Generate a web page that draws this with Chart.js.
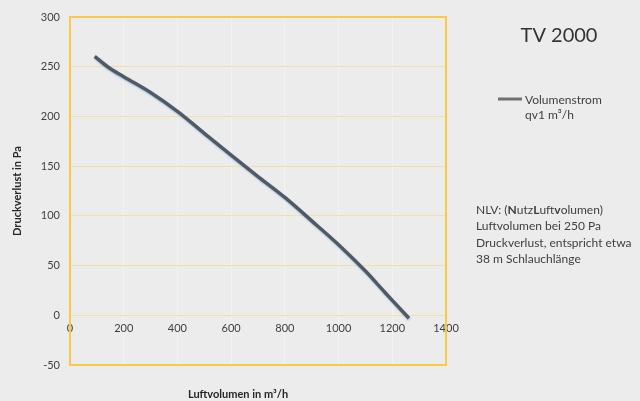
<!DOCTYPE html>
<html lang="de">
  <head>
    <meta charset="UTF-8">
    <title>TV 2000</title>
    <script src="https://cdn.jsdelivr.net/npm/chart.js@4"></script>
    <style>
      html, body { margin: 0; padding: 0; background: #ececec; }
    </style>
  </head>
  <body>
    <canvas id="chart" width="640" height="401"></canvas>
    <script type="text/javascript">
      // Luftvolumen (m³/h) und Druckverlust (Pa)
      const airflow = [92, 140, 200, 300, 400, 500, 600, 700, 800, 900, 1000, 1100, 1166, 1200, 1262]
      const pressure = [260.5, 250, 240, 224, 205, 183, 161, 139.5, 118.5, 95, 71, 44.5, 25, 15, -3]
      const xTicks = [0, 200, 400, 600, 800, 1000, 1200, 1400]
      const yTicks = [-50, 0, 50, 100, 150, 200, 250, 300]

      const FONT = 'Lato, "Liberation Sans", sans-serif'

      // light blue glow under the line, as in the original
      const glow = {
        id: 'glow',
        beforeDatasetsDraw(chart) {
          const ctx = chart.ctx
          ctx.save()
          ctx.shadowColor = 'rgba(110,165,220,0.55)'
          ctx.shadowOffsetX = 0.5
          ctx.shadowOffsetY = 1.5
          ctx.shadowBlur = 1.5
        },
        afterDatasetsDraw(chart) {
          chart.ctx.restore()
        }
      }

      const decor = {
        id: 'decor',
        afterDraw(chart) {
          const ctx = chart.ctx
          const a = chart.chartArea
          ctx.save()
          // gold frame round the plot
          ctx.strokeStyle = '#f8ca45'
          ctx.lineWidth = 2
          ctx.strokeRect(a.left, a.top, a.right - a.left, a.bottom - a.top)

          // x axis title
          ctx.fillStyle = '#262626'
          ctx.font = 'bold 11px ' + FONT
          ctx.textAlign = 'center'
          ctx.textBaseline = 'middle'
          ctx.fillText('Luftvolumen in m³/h', 238, 394)

          // heading
          ctx.fillStyle = '#333333'
          ctx.font = '20px ' + FONT
          ctx.fillText('TV 2000', 559, 36)

          // legend
          ctx.strokeStyle = '#707070'
          ctx.lineWidth = 3
          ctx.beginPath()
          ctx.moveTo(498, 99)
          ctx.lineTo(522, 99)
          ctx.stroke()
          ctx.fillStyle = '#404040'
          ctx.font = '12px ' + FONT
          ctx.textAlign = 'left'
          ctx.fillText('Volumenstrom', 525, 100)
          ctx.fillText('qv1 m³/h', 525, 115)

          // note
          const parts = [['NLV: (', false], ['N', true], ['utz', false], ['L', true],
                         ['uft', false], ['v', true], ['olumen)', false]]
          let x = 476
          parts.forEach(p => {
            ctx.font = (p[1] ? 'bold ' : '') + '12px ' + FONT
            ctx.fillText(p[0], x, 210)
            x += ctx.measureText(p[0]).width
          })
          ctx.font = '12px ' + FONT
          ctx.fillText('Luftvolumen bei 250 Pa', 476, 226.5)
          ctx.fillText('Druckverlust, entspricht etwa', 476, 243)
          ctx.fillText('38 m Schlauchlänge', 476, 259.5)
          ctx.restore()
        }
      }

      const ctx = document.getElementById('chart').getContext('2d')
      const chart = new Chart(ctx, {
        type: 'line',
        data: {
          datasets: [
            {
              label: 'Volumenstrom qv1 m³/h',
              data: airflow.map((v, i) => ({ x: v, y: pressure[i] })),
              borderColor: '#4f5a66',
              backgroundColor: '#4f5a66',
              borderWidth: 3.5,
              pointRadius: 0,
              cubicInterpolationMode: 'monotone',
              fill: false
            }
          ]
        },
        options: {
          responsive: false,
          animation: false,
          layout: { padding: { top: 17, right: 194, bottom: 36, left: 0 } },
          plugins: {
            legend: { display: false },
            tooltip: { enabled: false }
          },
          scales: {
            x: {
              type: 'linear',
              position: { y: 0 },
              min: 0,
              max: 1400,
              afterBuildTicks: s => { s.ticks = xTicks.map(v => ({ value: v })) },
              grid: { color: 'rgba(255,255,255,0.35)', drawTicks: false },
              border: { display: false },
              ticks: {
                color: '#404040', padding: 7, maxRotation: 0,
                font: { family: FONT, size: 11 },
                callback: v => String(v)
              }
            },
            y: {
              type: 'linear',
              min: -50,
              max: 300,
              afterBuildTicks: s => { s.ticks = yTicks.map(v => ({ value: v })) },
              afterFit: s => { s.width = 70 },
              grid: { color: '#f5dfa8', drawTicks: false },
              border: { display: false },
              ticks: { color: '#404040', padding: 10, font: { family: FONT, size: 11 } },
              title: {
                display: true,
                text: 'Druckverlust in Pa',
                color: '#262626',
                padding: { top: 11, bottom: 4 },
                font: { family: FONT, size: 11, weight: 'bold' }
              }
            }
          }
        },
        plugins: [glow, decor]
      })
    </script>
  </body>
</html>
